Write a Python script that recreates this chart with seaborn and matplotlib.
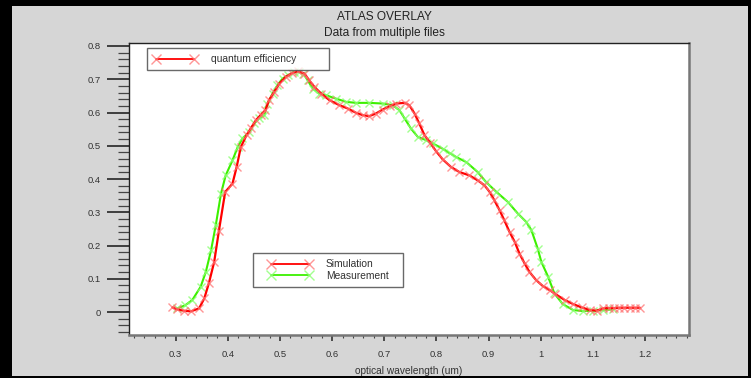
import matplotlib
matplotlib.use("Agg")
import matplotlib.pyplot as plt
import seaborn as sns
import numpy as np
import pandas as pd
from matplotlib.lines import Line2D
from matplotlib.patches import Rectangle
from matplotlib.legend_handler import HandlerLine2D
from matplotlib.ticker import MultipleLocator, FuncFormatter

sim_x = [0.294, 0.303, 0.316, 0.329, 0.345, 0.355, 0.364, 0.374, 0.383, 0.395, 0.409, 0.417,
         0.425, 0.436, 0.444, 0.454, 0.464, 0.472, 0.479, 0.489, 0.499, 0.511, 0.524, 0.534,
         0.547, 0.556, 0.566, 0.579, 0.595, 0.614, 0.630, 0.646, 0.659, 0.671, 0.684, 0.697,
         0.710, 0.723, 0.739, 0.748, 0.758, 0.767, 0.777, 0.788, 0.799, 0.812, 0.828, 0.844,
         0.863, 0.879, 0.892, 0.902, 0.911, 0.921, 0.930, 0.940, 0.950, 0.959, 0.969, 0.978,
         0.991, 1.004, 1.017, 1.028, 1.046, 1.062, 1.078, 1.094, 1.107, 1.119, 1.130, 1.140,
         1.150, 1.160, 1.170, 1.180, 1.190]
sim_y = [0.014, 0.008, 0.004, 0.002, 0.011, 0.041, 0.088, 0.151, 0.244, 0.361, 0.386, 0.436,
         0.496, 0.532, 0.552, 0.577, 0.594, 0.607, 0.637, 0.662, 0.687, 0.707, 0.719, 0.724,
         0.717, 0.697, 0.677, 0.657, 0.637, 0.622, 0.612, 0.599, 0.592, 0.589, 0.597, 0.609,
         0.619, 0.627, 0.629, 0.622, 0.597, 0.567, 0.532, 0.509, 0.484, 0.459, 0.436, 0.421,
         0.411, 0.396, 0.381, 0.361, 0.336, 0.306, 0.276, 0.241, 0.211, 0.176, 0.146, 0.121,
         0.096, 0.078, 0.066, 0.054, 0.036, 0.024, 0.014, 0.006, 0.004, 0.011, 0.012, 0.012,
         0.013, 0.013, 0.013, 0.013, 0.013]

meas_x = [0.303, 0.318, 0.332, 0.348, 0.358, 0.368, 0.377, 0.387, 0.396, 0.409, 0.419, 0.428,
          0.441, 0.451, 0.460, 0.470, 0.476, 0.486, 0.495, 0.505, 0.515, 0.527, 0.537, 0.545,
          0.553, 0.563, 0.575, 0.588, 0.607, 0.627, 0.646, 0.671, 0.697, 0.716, 0.729, 0.739,
          0.751, 0.764, 0.780, 0.793, 0.812, 0.825, 0.838, 0.857, 0.879, 0.895, 0.915, 0.937,
          0.956, 0.972, 0.982, 0.994, 1.001, 1.014, 1.026, 1.042, 1.062, 1.081, 1.100, 1.119,
          1.138]
meas_y = [0.011, 0.020, 0.036, 0.076, 0.121, 0.186, 0.261, 0.356, 0.411, 0.456, 0.496, 0.522,
          0.541, 0.567, 0.582, 0.592, 0.627, 0.657, 0.682, 0.702, 0.712, 0.722, 0.722, 0.717,
          0.697, 0.672, 0.657, 0.652, 0.642, 0.632, 0.629, 0.629, 0.627, 0.622, 0.607, 0.582,
          0.552, 0.527, 0.517, 0.507, 0.491, 0.478, 0.466, 0.451, 0.421, 0.391, 0.361, 0.331,
          0.296, 0.271, 0.246, 0.191, 0.151, 0.106, 0.056, 0.024, 0.006, 0.003, 0.004, 0.006,
          0.008]

series_labels = ["Simulation", "Measurement"]
title_main = "ATLAS OVERLAY"
title_sub = "Data from multiple files"
x_label = "optical wavelength (um)"
legend_top_label = "quantum efficiency"

sns.set_style("white")
plt.rcParams['font.family'] = ['Liberation Sans', 'DejaVu Sans']

W, H = 751, 378
fig = plt.figure(figsize=(W / 100, H / 100), dpi=100, facecolor="#d6d6d6")
ax = fig.add_axes([129 / W, 1 - 335 / H, (689 - 129) / W, (335 - 43) / H])
ax.set_facecolor("white")

red = "#ff0000"
green = "#3cf000"
red_m = (1.0, 0.45, 0.45, 0.75)
green_m = (0.55, 1.0, 0.45, 0.8)

sim_df = pd.DataFrame({"x": sim_x, "y": sim_y})
meas_df = pd.DataFrame({"x": meas_x, "y": meas_y})

sns.lineplot(data=meas_df, x="x", y="y", ax=ax, color=green, lw=1.5, marker="x",
             markersize=6, markeredgewidth=1.0, markeredgecolor=green_m, legend=False)
sns.lineplot(data=sim_df, x="x", y="y", ax=ax, color=red, lw=1.6, marker="x",
             markersize=6, markeredgewidth=1.0, markeredgecolor=red_m, legend=False)

ax.set_xlim(0.2107, 1.284)
ax.set_ylim(-0.069, 0.809)

ax.xaxis.set_major_locator(MultipleLocator(0.1))
ax.xaxis.set_minor_locator(MultipleLocator(0.02))
ax.yaxis.set_major_locator(MultipleLocator(0.1))
ax.yaxis.set_minor_locator(MultipleLocator(0.02))

def fmt(v, pos):
    v = round(v, 2)
    if abs(v) < 1e-9:
        return "0"
    s = f"{v:.1f}"
    if s.endswith(".0"):
        s = s[:-2]
    return s

ax.xaxis.set_major_formatter(FuncFormatter(fmt))
ax.yaxis.set_major_formatter(FuncFormatter(fmt))

tick_col = "#333333"
ax.tick_params(axis="y", which="major", direction="out", length=15.5, width=1.3,
               color="#333333", labelsize=6.8, labelcolor=tick_col, pad=5, left=True)
ax.tick_params(axis="y", which="minor", direction="out", length=8, width=0.9,
               color="#444444", left=True)
ax.tick_params(axis="x", which="major", direction="out", length=4.5, width=1.2,
               color="#333333", labelsize=6.8, labelcolor=tick_col, pad=6, bottom=True)
ax.tick_params(axis="x", which="minor", direction="out", length=2.5, width=0.8,
               color="#444444", bottom=True)

ax.set_xlabel(x_label, fontsize=7.3, color=tick_col, labelpad=5)
ax.set_ylabel("")

for side in ["left", "top"]:
    ax.spines[side].set_color("#222222")
    ax.spines[side].set_linewidth(1.0)
for side in ["right", "bottom"]:
    ax.spines[side].set_color("#777777")
    ax.spines[side].set_linewidth(1.8)

fig.text(384 / W, 1 - 17 / H, title_main, ha="center", va="center", fontsize=8.6, color="#222222")
fig.text(384 / W, 1 - 33 / H, title_sub, ha="center", va="center", fontsize=8.6, color="#222222")

fs = 7.4
h_top = Line2D([], [], color=red, lw=1.3, marker="x", markersize=7, markeredgewidth=1.0,
               markeredgecolor=red_m)
leg1 = ax.legend([h_top], [legend_top_label], loc="upper left",
                 bbox_to_anchor=((147 - 129) / 560, (335 - 48) / 292, (329 - 147) / 560, 0.0),
                 mode="expand", numpoints=2, handlelength=4.3, handletextpad=1.35,
                 borderpad=0.6, borderaxespad=0.0, fontsize=fs, frameon=True, fancybox=False,
                 labelcolor="#333333")
leg1.get_frame().set_edgecolor("#444444")
leg1.get_frame().set_linewidth(1.0)
ax.add_artist(leg1)

h_sim = Line2D([], [], color=red, lw=1.3, marker="x", markersize=7, markeredgewidth=1.0,
               markeredgecolor=red_m)
h_meas = Line2D([], [], color=green, lw=1.3, marker="x", markersize=7, markeredgewidth=1.0,
                markeredgecolor=green_m)
leg2 = ax.legend([h_sim, h_meas], series_labels, loc="upper left",
                 bbox_to_anchor=((253 - 129) / 560, (335 - 253) / 292, (403 - 253) / 560, 0.0),
                 mode="expand", handlelength=5.1, handletextpad=1.36,
                 handler_map={Line2D: HandlerLine2D(numpoints=2, xpad=0.83)},
                 borderpad=0.62, labelspacing=0.15, borderaxespad=0.0, fontsize=fs,
                 frameon=True, fancybox=False, labelcolor="#333333")
leg2.get_frame().set_edgecolor("#444444")
leg2.get_frame().set_linewidth(1.0)

# black outer border of the screenshot
for (x0, y0, w, h) in [(0, 0, 12, H), (0, H - 6, W, 6), (0, 0, W, 2), (W - 3, 0, 3, H)]:
    fig.patches.append(Rectangle((x0 / W, y0 / H), w / W, h / H, transform=fig.transFigure,
                                 facecolor="black", edgecolor="none", figure=fig))

fig.savefig("out.png", dpi=100, facecolor=fig.get_facecolor())
